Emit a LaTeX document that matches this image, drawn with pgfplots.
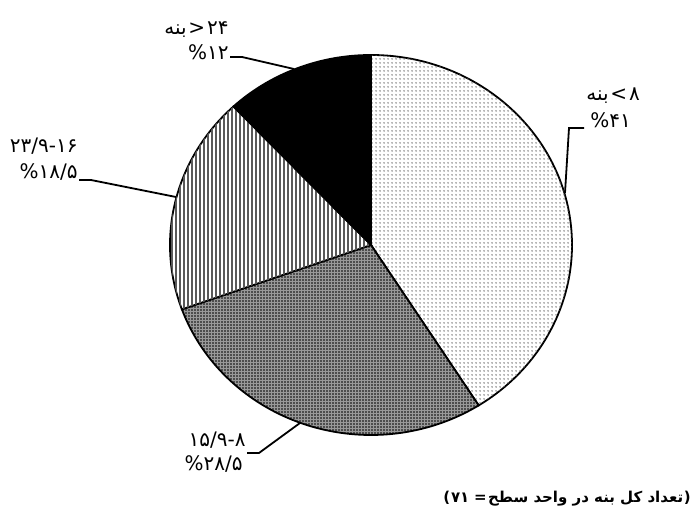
\documentclass[border=0pt]{standalone}
\usepackage{pgfplots}
\pgfplotsset{compat=1.18}
\usepackage{pgfplotstable}
\usetikzlibrary{patterns.meta}
\usepackage{fontspec}
\newfontfamily\fa[Script=Arabic]{DejaVu Sans}
\newfontfamily\lat{DejaVu Sans}

\pgfplotstableread{
pct
41
28.5
18.5
12
}\piedata
\pgfplotstablegetelem{0}{pct}\of\piedata \let\pA\pgfplotsretval
\pgfplotstablegetelem{1}{pct}\of\piedata \let\pB\pgfplotsretval
\pgfplotstablegetelem{2}{pct}\of\piedata \let\pC\pgfplotsretval
\pgfplotstablegetelem{3}{pct}\of\piedata \let\pD\pgfplotsretval
\pgfmathsetmacro\aA{90}
\pgfmathsetmacro\aB{\aA-3.6*\pA}
\pgfmathsetmacro\aC{\aB-3.6*\pB}
\pgfmathsetmacro\aD{\aC-3.6*\pC}
\pgfmathsetmacro\aE{\aD-3.6*\pD}

\begin{document}
\begin{tikzpicture}
\begin{axis}[scale only axis, width=348.5pt, height=261.5pt,
  xmin=0, xmax=697, ymin=0, ymax=523, hide axis, clip=false]
\path (axis cs:0,0) rectangle (axis cs:697,523);
% slices
\filldraw[line width=0.9pt, fill=white,
  postaction={pattern={Dots[distance=2pt, radius=0.38pt]}, pattern color=black!55}]
  (axis cs:371,278) -- ++(\aA:100.5pt and 95pt)
  arc[start angle=\aA, end angle=\aB, x radius=100.5pt, y radius=95pt] -- cycle;
\filldraw[line width=0.9pt, fill=black!40,
  postaction={pattern={Dots[distance=1.5pt, radius=0.42pt]}, pattern color=black}]
  (axis cs:371,278) -- ++(\aB:100.5pt and 95pt)
  arc[start angle=\aB, end angle=\aC, x radius=100.5pt, y radius=95pt] -- cycle;
\filldraw[line width=0.9pt, fill=white,
  postaction={pattern={Lines[angle=90, distance=2pt, line width=0.7pt]}, pattern color=black!65}]
  (axis cs:371,278) -- ++(\aC:100.5pt and 95pt)
  arc[start angle=\aC, end angle=\aD, x radius=100.5pt, y radius=95pt] -- cycle;
\filldraw[line width=0.9pt, fill=black]
  (axis cs:371,278) -- ++(\aD:100.5pt and 95pt)
  arc[start angle=\aD, end angle=\aE, x radius=100.5pt, y radius=95pt] -- cycle;
% leader lines
\draw[line width=0.9pt] (axis cs:230,466) -- (axis cs:242,466) -- (axis cs:294,454);
\draw[line width=0.9pt] (axis cs:565,330) -- (axis cs:569,395) -- (axis cs:584,395);
\draw[line width=0.9pt] (axis cs:79,343) -- (axis cs:91,343) -- (axis cs:176,326);
\draw[line width=0.9pt] (axis cs:247,70) -- (axis cs:259,70) -- (axis cs:300,100);
% labels
\begin{scope}[every node/.style={inner sep=0pt, font=\fa\fontsize{10}{12}\selectfont}]
\node[anchor=east] (t3) at (axis cs:229,495) {۲۴};
\node[anchor=base east, font=\lat\fontsize{10}{12}\selectfont] (t2) at ([xshift=-0.6pt]t3.base west) {>};
\node[anchor=base east] at ([xshift=-0.4pt]t2.base west) {بنه};
\node[anchor=east] at (axis cs:229,471) {\%۱۲};
\node[anchor=west] (r1) at (axis cs:586,426) {بنه};
\node[anchor=base west, font=\lat\fontsize{10}{12}\selectfont] (r2) at ([xshift=0.4pt]r1.base east) {<};
\node[anchor=base west] at ([xshift=0.6pt]r2.base east) {۸};
\node[anchor=west] at (axis cs:590,403) {\%۴۱};
\node[anchor=east] at (axis cs:78,377) {۲۳/۹-۱۶};
\node[anchor=east] at (axis cs:78,351) {\%۱۸/۵};
\node[anchor=east] at (axis cs:246,83) {۱۵/۹-۸};
\node[anchor=east] at (axis cs:243,59) {\%۲۸/۵};
\end{scope}
\begin{scope}[every node/.style={inner sep=0pt, font=\fa\bfseries\fontsize{7.5}{9}\selectfont}]
\node[anchor=base west, font=\lat\bfseries\fontsize{7.5}{9}\selectfont] (c1) at (axis cs:443,20) {(};
\node[anchor=base west] (c2) at (c1.base east) {۷۱};
\node[anchor=base west, font=\lat\bfseries\fontsize{7.5}{9}\selectfont] (c3) at ([xshift=2pt]c2.base east) {=};
\node[anchor=base west] (c4) at ([xshift=0.3pt]c3.base east) {سطح};
\node[anchor=base west] (c5) at ([xshift=2.2pt]c4.base east) {واحد};
\node[anchor=base west] (c6) at ([xshift=2.2pt]c5.base east) {در};
\node[anchor=base west] (c7) at ([xshift=2.2pt]c6.base east) {بنه};
\node[anchor=base west] (c8) at ([xshift=2.2pt]c7.base east) {کل};
\node[anchor=base west] (c9) at ([xshift=2.2pt]c8.base east) {تعداد};
\node[anchor=base west, font=\lat\bfseries\fontsize{7.5}{9}\selectfont] at (c9.base east) {)};
\end{scope}
\end{axis}
\end{tikzpicture}
\end{document}
